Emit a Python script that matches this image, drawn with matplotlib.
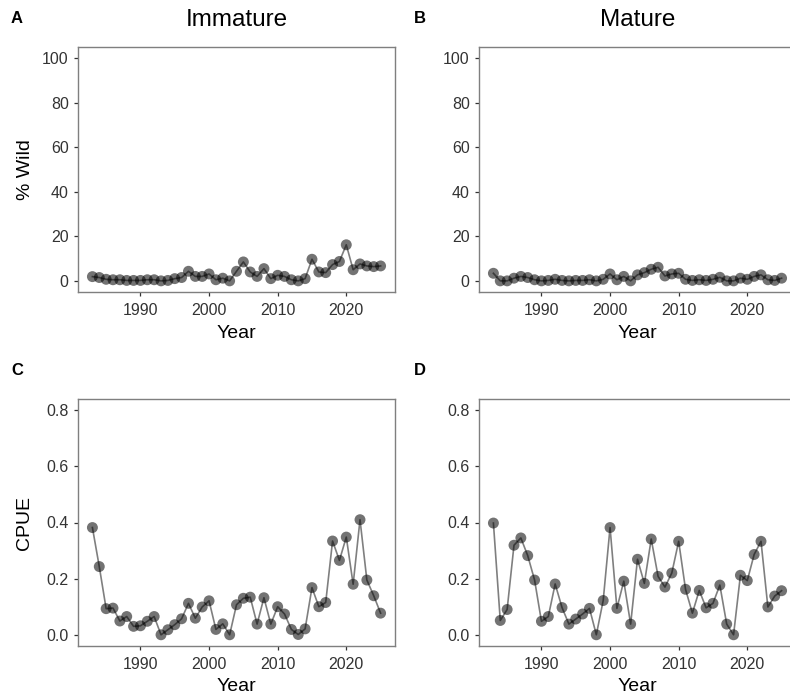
import matplotlib
matplotlib.use("Agg")
import matplotlib.pyplot as plt
import numpy as np

plt.rcParams['font.family'] = ['Liberation Sans', 'DejaVu Sans']

years = list(range(1983, 2026))

wild_immature = [1.9, 1.5, 0.7, 0.5, 0.5, 0.2, 0.2, 0.2, 0.5, 0.5,
                 0.0, 0.2, 1.0, 1.5, 4.3, 2.0, 2.0, 3.1, 0.5, 1.2,
                 0.0, 4.3, 8.5, 4.0, 2.0, 5.5, 1.0, 2.5, 2.0, 0.5,
                 0.0, 1.0, 9.7, 4.0, 3.7, 7.3, 8.7, 16.2, 5.0, 7.6,
                 6.7, 6.4, 6.7]
wild_mature = [3.4, 0.0, 0.0, 1.2, 2.0, 1.5, 0.5, 0.0, 0.2, 0.7,
               0.2, 0.0, 0.2, 0.2, 0.5, 0.0, 0.7, 3.1, 0.5, 2.0,
               0.0, 2.7, 3.7, 5.2, 6.1, 2.2, 3.1, 3.4, 0.7, 0.2,
               0.5, 0.2, 0.7, 1.6, 0.0, 0.0, 1.2, 0.7, 2.0, 2.7,
               0.5, 0.2, 1.2]
cpue_immature = [0.382, 0.243, 0.093, 0.095, 0.049, 0.065, 0.030, 0.032, 0.048, 0.065,
                 0.000, 0.018, 0.036, 0.057, 0.112, 0.059, 0.099, 0.121, 0.019, 0.039,
                 0.000, 0.107, 0.130, 0.134, 0.038, 0.132, 0.038, 0.100, 0.074, 0.019,
                 0.001, 0.021, 0.168, 0.100, 0.115, 0.334, 0.265, 0.348, 0.180, 0.410,
                 0.195, 0.139, 0.077]
cpue_mature = [0.398, 0.051, 0.090, 0.319, 0.345, 0.282, 0.195, 0.048, 0.065, 0.181,
               0.097, 0.038, 0.056, 0.074, 0.094, 0.000, 0.122, 0.382, 0.094, 0.191,
               0.038, 0.269, 0.183, 0.341, 0.208, 0.170, 0.220, 0.333, 0.162, 0.077,
               0.158, 0.096, 0.112, 0.177, 0.038, 0.000, 0.212, 0.193, 0.286, 0.333,
               0.099, 0.138, 0.157]

W, H = 790, 696
fig = plt.figure(figsize=(W / 100, H / 100), dpi=100)


def px_axes(left, top, right, bottom):
    return fig.add_axes([left / W, 1 - bottom / H, (right - left) / W, (bottom - top) / H])


def style(ax, ylim, yticks, yticklabels):
    ax.set_xlim(1980.9, 2027.1)
    ax.set_ylim(*ylim)
    ax.set_xticks([1990, 2000, 2010, 2020])
    ax.set_yticks(yticks)
    ax.set_yticklabels(yticklabels)
    for s in ax.spines.values():
        s.set_color('#7f7f7f')
        s.set_linewidth(1.0)
    ax.tick_params(axis='both', length=3.2, width=0.9, color='#333333',
                   labelcolor='#333333', labelsize=11.5)
    ax.tick_params(axis='x', pad=5.0)
    ax.tick_params(axis='y', pad=3.5)


def draw(ax, y):
    ax.scatter(years, y, s=62, color='black', alpha=0.55, edgecolors='none', zorder=2)
    ax.plot(years, y, color='black', alpha=0.5, lw=1.2, zorder=3)


axA = px_axes(78, 47, 395, 292)
axB = px_axes(479, 47, 796, 292)
axC = px_axes(78, 399, 395, 646)
axD = px_axes(479, 399, 796, 646)

wild_ticks = [0, 20, 40, 60, 80, 100]
cpue_ticks = [0.0, 0.2, 0.4, 0.6, 0.8]
cpue_labels = ['0.0', '0.2', '0.4', '0.6', '0.8']

for ax, y in [(axA, wild_immature), (axB, wild_mature)]:
    draw(ax, y)
    style(ax, (-5, 105), wild_ticks, [str(t) for t in wild_ticks])
    ax.set_xlabel('Year', fontsize=14)
    ax.xaxis.set_label_coords(0.5, -46 / 245)
    ax.xaxis.label.set_va('baseline')

for ax, y in [(axC, cpue_immature), (axD, cpue_mature)]:
    draw(ax, y)
    style(ax, (-0.04, 0.84), cpue_ticks, cpue_labels)
    ax.set_xlabel('Year', fontsize=14)
    ax.xaxis.set_label_coords(0.5, -45 / 247)
    ax.xaxis.label.set_va('baseline')

axA.set_ylabel('% Wild', fontsize=14)
axA.yaxis.set_label_coords(-52 / 317, 0.5)
axA.yaxis.label.set_va('center')
axC.set_ylabel('CPUE', fontsize=14)
axC.yaxis.set_label_coords(-54 / 317, 0.5)
axC.yaxis.label.set_va('center')

axA.set_title('Immature', fontsize=17.5, pad=15)
axB.set_title('Mature', fontsize=17.5, pad=15)

for lab, x, yb in [('A', 11, 23), ('B', 414, 23), ('C', 11, 375), ('D', 414, 375)]:
    fig.text(x / W, 1 - yb / H, lab, fontsize=12, fontweight='bold', va='baseline', ha='left')

fig.savefig('out.png', dpi=100)
